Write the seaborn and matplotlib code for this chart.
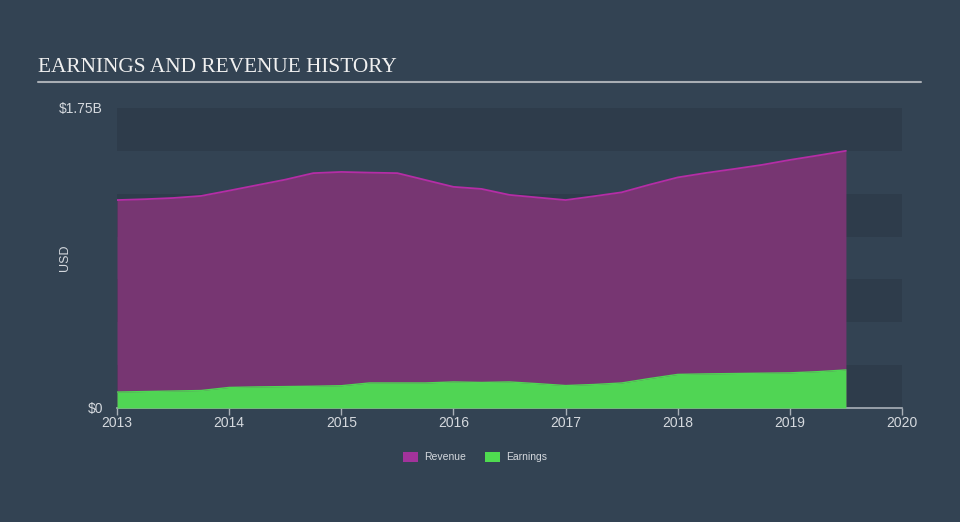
import matplotlib
matplotlib.use("Agg")
import matplotlib.pyplot as plt
import seaborn as sns
import numpy as np
import pandas as pd
from matplotlib.patches import Patch

# ---- data (USD billions), quarterly ----
years = [2013.0, 2013.25, 2013.5, 2013.75, 2014.0, 2014.25, 2014.5, 2014.75,
         2015.0, 2015.25, 2015.5, 2015.75, 2016.0, 2016.25, 2016.5, 2016.75,
         2017.0, 2017.25, 2017.5, 2017.75, 2018.0, 2018.25, 2018.5, 2018.75,
         2019.0, 2019.25, 2019.5]
revenue = [1.213, 1.218, 1.225, 1.237, 1.268, 1.300, 1.332, 1.370,
           1.377, 1.373, 1.370, 1.330, 1.290, 1.278, 1.243, 1.228,
           1.213, 1.235, 1.258, 1.303, 1.345, 1.371, 1.394, 1.418,
           1.447, 1.473, 1.500]
earnings = [0.093, 0.096, 0.099, 0.102, 0.120, 0.123, 0.125, 0.127,
            0.130, 0.146, 0.146, 0.146, 0.152, 0.149, 0.152, 0.142,
            0.131, 0.137, 0.146, 0.172, 0.196, 0.199, 0.201, 0.203,
            0.205, 0.212, 0.222]
x_ticks = [2013, 2014, 2015, 2016, 2017, 2018, 2019, 2020]
y_ticks = [0, 1.75]
y_tick_labels = ["$0", "$1.75B"]
series_names = ["Revenue", "Earnings"]

df = pd.DataFrame({"year": years, "Revenue": revenue, "Earnings": earnings})

BG = "#334353"
BAND_DARK = "#2e3c4b"
REV_FILL = "#773672"
REV_LINE = "#b52da6"
REV_SWATCH = "#a2339b"
EARN_FILL = "#50d554"
EARN_SWATCH = "#4fdb50"
TXT = "#d5d9de"

sns.set_theme(style="dark")
plt.rcParams["font.family"] = ["Liberation Sans", "DejaVu Sans"]

fig = plt.figure(figsize=(9.6, 5.22), dpi=100, facecolor=BG)
ax = fig.add_axes([117/960, 1-408/522, (902-117)/960, 300/522])
ax.set_facecolor(BG)

# alternating bands
for lo in [0.0, 0.5, 1.0, 1.5]:
    ax.axhspan(lo, lo + 0.25, color=BAND_DARK, lw=0, zorder=0)

ax.fill_between(df["year"], 0, df["Revenue"], color=REV_FILL, lw=0, zorder=1)
sns.lineplot(data=df, x="year", y="Revenue", ax=ax, color=REV_LINE, lw=1.3, zorder=2)
ax.fill_between(df["year"], 0, df["Earnings"], color=EARN_FILL, lw=0, zorder=3)
sns.lineplot(data=df, x="year", y="Earnings", ax=ax, color=EARN_FILL, lw=1.0, zorder=4)

ax.set_xlim(2013, 2020)
ax.set_ylim(0, 1.75)
ax.set_xticks(x_ticks)
ax.set_xticklabels([str(t) for t in x_ticks], color=TXT, fontsize=10)
ax.set_yticks(y_ticks)
ax.set_yticklabels(y_tick_labels, color=TXT, fontsize=10)
ax.tick_params(axis="x", length=5, width=1, color="#a9b0b8", pad=1, direction="out", bottom=True)
ax.tick_params(axis="y", length=0, pad=10)
ax.set_xlabel("")
ax.set_ylabel("")
fig.text(65/960, 1-258/522, "USD", color=TXT, fontsize=9, rotation=90, ha="center", va="center")
for s in ["top", "right", "left"]:
    ax.spines[s].set_visible(False)
ax.spines["bottom"].set_color("#a9b0b8")
ax.spines["bottom"].set_linewidth(1.2)
ax.grid(False)

# title + underline
fig.text(38/960, 1-67/522, "EARNINGS AND REVENUE HISTORY", color="#f0f0f0",
         fontsize=15.3, family=["Liberation Serif", "DejaVu Serif"], va="center", ha="left")
fig.add_artist(plt.Line2D([38/960, 921/960], [1-82/522, 1-82/522], color="#a9aeb4", lw=1.5))

# legend
handles = [Patch(facecolor=REV_SWATCH, edgecolor="none"), Patch(facecolor=EARN_SWATCH, edgecolor="none")]
leg = fig.legend(handles, series_names, loc="center", bbox_to_anchor=(475/960, 1-457/522),
                 ncol=2, frameon=False, fontsize=7.5, handlelength=1.5, handleheight=1.1,
                 columnspacing=1.8, handletextpad=0.55)
for t in leg.get_texts():
    t.set_color(TXT)

fig.savefig("out.png", dpi=100, facecolor=BG)
